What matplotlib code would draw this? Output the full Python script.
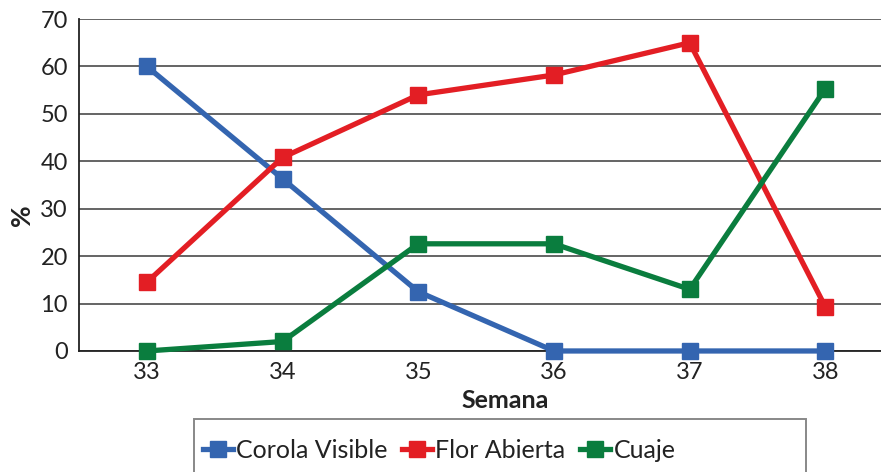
import matplotlib
matplotlib.use("Agg")
import matplotlib.pyplot as plt
from matplotlib.patches import Rectangle

plt.rcParams['font.family'] = ['Lato', 'DejaVu Sans']

semanas = [33, 34, 35, 36, 37, 38]
corola_visible = [60, 36.3, 12.5, 0, 0, 0]
flor_abierta = [14.5, 40.8, 54.0, 58.2, 65.0, 9.3]
cuaje = [0, 2.0, 22.6, 22.6, 13.0, 55.3]

series = [
    ('Corola Visible', corola_visible, '#3465b0'),
    ('Flor Abierta', flor_abierta, '#e31e24'),
    ('Cuaje', cuaje, '#0a7d3e'),
]

fig = plt.figure(figsize=(8.81, 4.72), dpi=100)
ax = fig.add_axes([0.0897, 0.2564, 0.9103, 0.7033])

for label, vals, color in series:
    ax.plot(semanas, vals, color=color, lw=3.8, marker='s', markersize=11.5,
            label=label, clip_on=False, zorder=3)

ax.set_xlim(32.5, 38.41)
ax.set_ylim(0, 70)
ax.set_yticks(range(0, 71, 10))
ax.set_xticks(semanas)
ax.yaxis.grid(True, color='#3a3a3a', lw=1.1)
ax.set_axisbelow(True)
for s in ['top', 'right']:
    ax.spines[s].set_visible(False)
for s in ['left', 'bottom']:
    ax.spines[s].set_color('#222222')
    ax.spines[s].set_linewidth(1.3)
ax.tick_params(axis='both', length=0, labelsize=17, colors='#222222', pad=8)

ax.set_xlabel('Semana', fontsize=18, fontweight='bold', color='#222222')
ax.xaxis.set_label_coords(0.531, -0.115)
ax.set_ylabel('%', fontsize=19, fontweight='bold', color='#222222')
ax.yaxis.set_label_coords(-0.056, 0.41)

# legend frame, cut off at the bottom like the original
fig.patches.append(Rectangle((0.2202, -0.1), 0.6947, 0.2123, transform=fig.transFigure,
                             fill=False, edgecolor='#888888', lw=1.4))
leg = fig.legend(loc='center left', bbox_to_anchor=(0.216, 0.046), ncol=3,
                 fontsize=18, frameon=False, handlelength=1.2,
                 handletextpad=0.12, columnspacing=0.6, borderpad=0,
                 labelcolor='#222222')

fig.savefig('out.png', dpi=100)
